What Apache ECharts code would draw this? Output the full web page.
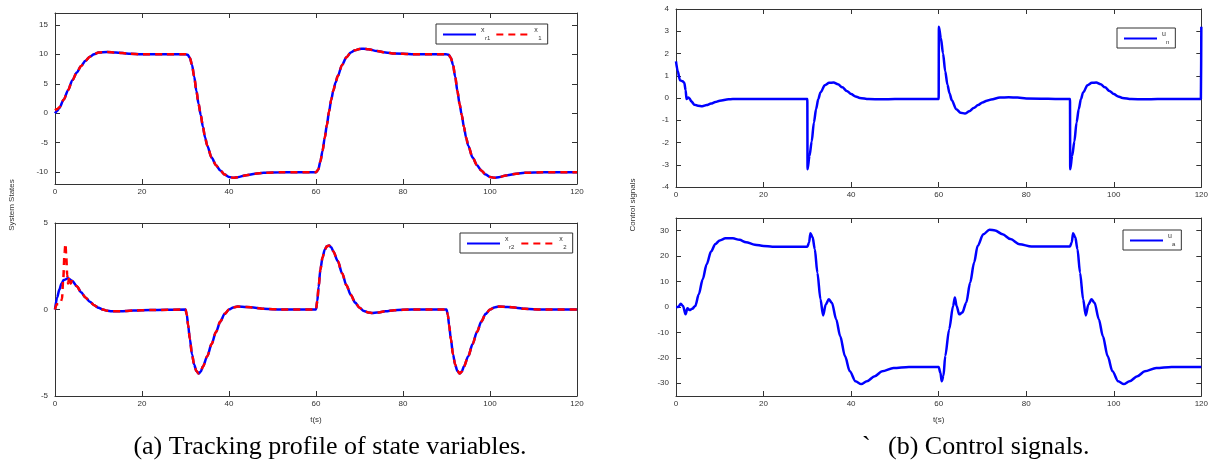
<!DOCTYPE html>
<html>
<head>
<meta charset="utf-8">
<script src="https://cdn.jsdelivr.net/npm/echarts@6/dist/echarts.min.js"></script>
<style>
  html, body { margin: 0; padding: 0; background: #fff; }
  #main { width: 1211px; height: 468px; }
</style>
</head>
<body>
<div id="main"></div>
<script>
// (a) 上图: x_r1 / x1
var tA = [0, 0.5, 1, 2, 3, 4, 5, 6, 7, 8, 9, 10, 12, 14, 17, 20, 25, 30,
  30.5, 31, 31.5, 32, 32.5, 33, 33.5, 34, 34.5, 35, 36, 37, 38, 39, 40, 41, 42, 44, 46, 48, 52, 60,
  60.5, 61, 61.5, 62, 62.5, 63, 63.5, 64, 64.5, 65, 66, 67, 68, 69, 70, 71, 72, 74, 76, 78, 82, 90,
  90.5, 91, 91.5, 92, 92.5, 93, 93.5, 94, 94.5, 95, 96, 97, 98, 99, 100, 101, 102, 104, 106, 108, 112, 120];
var xr1 = [0, 0.4, 0.9, 2.3, 3.9, 5.6, 6.9, 8.0, 8.9, 9.6, 10.0, 10.3, 10.4, 10.3, 10.1, 10.0, 10.0, 10.0,
  9.9, 9.4, 8.2, 6.2, 3.8, 1.6, -0.3, -2.3, -4.1, -5.5, -7.5, -8.8, -9.7, -10.4, -10.8, -10.95, -10.85, -10.5, -10.25, -10.1, -10.02, -10,
  -9.6, -8.2, -6.4, -4.2, -2.0, 0.3, 2.3, 3.9, 5.2, 6.3, 8.2, 9.5, 10.3, 10.7, 10.9, 10.95, 10.85, 10.55, 10.3, 10.12, 10.02, 10,
  9.9, 9.4, 8.2, 6.2, 3.8, 1.6, -0.3, -2.3, -4.1, -5.5, -7.5, -8.8, -9.7, -10.4, -10.8, -10.95, -10.85, -10.5, -10.25, -10.1, -10.02, -10];
var x1 = [0.5, 0.7, 1.0, 2.3, 3.9, 5.6, 6.9, 8.0, 8.9, 9.6, 10.0, 10.3, 10.4, 10.3, 10.1, 10.0, 10.0, 10.0,
  9.9, 9.4, 8.2, 6.2, 3.8, 1.6, -0.3, -2.3, -4.1, -5.5, -7.5, -8.8, -9.7, -10.4, -10.8, -10.95, -10.85, -10.5, -10.25, -10.1, -10.02, -10,
  -9.6, -8.2, -6.4, -4.2, -2.0, 0.3, 2.3, 3.9, 5.2, 6.3, 8.2, 9.5, 10.3, 10.7, 10.9, 10.95, 10.85, 10.55, 10.3, 10.12, 10.02, 10,
  9.9, 9.4, 8.2, 6.2, 3.8, 1.6, -0.3, -2.3, -4.1, -5.5, -7.5, -8.8, -9.7, -10.4, -10.8, -10.95, -10.85, -10.5, -10.25, -10.1, -10.02, -10];

// (a) 下图: x_r2 / x2
var tB = [0, 0.5, 1, 1.5, 2, 3, 4, 5, 6, 7, 8, 9, 10, 11, 12, 13, 15, 18, 22, 30,
  30.3, 30.6, 31, 31.5, 32, 32.5, 33, 33.5, 34, 35, 36, 37, 38, 39, 40, 41, 42, 44, 46, 48, 52, 60,
  60.3, 60.6, 61, 61.5, 62, 62.5, 63, 63.5, 64, 65, 66, 67, 68, 69, 70, 71, 72, 73, 74, 76, 78, 82, 90,
  90.3, 90.6, 91, 91.5, 92, 92.5, 93, 93.5, 94, 95, 96, 97, 98, 99, 100, 101, 102, 104, 106, 108, 112, 120];
var xr2 = [0, 0.7, 1.15, 1.5, 1.7, 1.8, 1.65, 1.35, 1.0, 0.7, 0.45, 0.25, 0.1, 0.0, -0.07, -0.1, -0.1, -0.06, -0.03, 0,
  -0.3, -0.9, -1.7, -2.6, -3.2, -3.55, -3.7, -3.6, -3.3, -2.7, -2.0, -1.3, -0.7, -0.25, 0.0, 0.12, 0.17, 0.15, 0.1, 0.04, 0, 0,
  0.5, 1.3, 2.3, 3.0, 3.45, 3.65, 3.7, 3.6, 3.35, 2.8, 2.1, 1.4, 0.85, 0.4, 0.1, -0.08, -0.17, -0.2, -0.18, -0.1, -0.04, 0, 0,
  -0.3, -0.9, -1.7, -2.6, -3.2, -3.55, -3.7, -3.6, -3.3, -2.7, -2.0, -1.3, -0.7, -0.25, 0.0, 0.12, 0.17, 0.15, 0.1, 0.04, 0, 0];
// x2 起始段振荡
var tB2 = [0, 0.4, 0.8, 1.2, 1.6, 1.9, 2.2, 2.4, 2.6, 2.8, 3.0, 3.3, 3.6, 4];
var x2Start = [0, 0.3, 0.3, 0.35, 0.6, 1.8, 3.3, 3.8, 3.0, 2.0, 1.5, 1.9, 1.5, 1.65];

// (b) 上图: u_n
var tC = [0, 0.4, 0.9, 1.5, 1.9, 2.2, 2.4, 2.8, 3.1, 3.5, 4.2, 5, 6, 7, 8, 9, 10, 12, 14, 17, 20, 30,
  30.05, 30.5, 31, 31.5, 32, 32.5, 33, 34, 35, 36, 37, 38, 39, 40, 41, 42, 44, 47, 50, 60,
  60.05, 60.5, 61, 61.5, 62, 62.5, 63, 64, 65, 66, 67, 68, 69, 70, 71, 72, 74, 76, 78, 80, 90,
  90.05, 90.5, 91, 91.5, 92, 92.5, 93, 94, 95, 96, 97, 98, 99, 100, 101, 102, 104, 107, 110, 119.9, 120];
var un = [1.65, 1.2, 0.8, 0.75, 0.68, 0.35, -0.05, 0.02, -0.02, -0.15, -0.3, -0.35, -0.37, -0.32, -0.25, -0.18, -0.12, -0.06, -0.04, -0.04, -0.05, -0.05,
  -3.2, -2.6, -1.95, -1.1, -0.5, -0.05, 0.25, 0.57, 0.68, 0.7, 0.62, 0.48, 0.32, 0.18, 0.07, 0.0, -0.05, -0.06, -0.05, -0.05,
  3.2, 2.7, 2.0, 1.2, 0.6, 0.2, -0.1, -0.5, -0.66, -0.7, -0.6, -0.45, -0.32, -0.2, -0.12, -0.07, 0.02, 0.03, 0.02, -0.02, -0.05,
  -3.2, -2.6, -1.95, -1.1, -0.5, -0.05, 0.25, 0.57, 0.68, 0.7, 0.62, 0.48, 0.32, 0.18, 0.07, 0.0, -0.05, -0.06, -0.05, -0.05, 3.2];

// (b) 下图: u_a
var tD = [0, 0.5, 1.1, 1.6, 2.2, 2.6, 3.1, 3.7, 4.4, 5.2, 6.1, 7, 8, 9, 10, 11.3, 13, 14.5, 16, 18, 20, 22, 30,
  30.4, 30.7, 31.2, 31.7, 32.3, 33, 33.6, 34.2, 34.9, 35.6, 36.6, 37.5, 38.6, 39.7, 41, 42.3, 43.6, 45.4, 47.1, 49.7, 53.2, 60,
  60.4, 60.7, 61.1, 61.5, 62.4, 63.3, 63.7, 64.1, 64.7, 65.4, 66.3, 67.2, 68.1, 68.9, 70.2, 71.6, 72.9, 74.6, 76.4, 78.5, 81.2, 90,
  90.4, 90.7, 91.2, 91.7, 92.3, 93, 93.6, 94.2, 94.9, 95.6, 96.6, 97.5, 98.6, 99.7, 101, 102.3, 103.6, 105.4, 107.1, 109.7, 113.2, 120];
var ua = [0, 0, 1.3, 0.4, -2.9, -0.5, -1.2, -0.7, 0.4, 5, 10.9, 16.8, 21.8, 24.8, 26.2, 27, 27, 26.4, 25.5, 24.5, 24, 23.7, 23.7,
  25.4, 29, 27.5, 22.8, 13.5, 3, -3.3, 1, 3, 1.7, -4.9, -11.4, -19.3, -25.3, -29.2, -30.3, -29.2, -27.2, -25.3, -24, -23.6, -23.6,
  -25.9, -29.2, -27, -19.3, -8.8, 0.4, 3.7, 0.4, -2.9, -2.2, 1.7, 9.6, 17.5, 24, 28.6, 30.4, 30.1, 28.6, 26.7, 24.7, 23.8, 23.8,
  25.4, 29, 27.5, 22.8, 13.5, 3, -3.3, 1, 3, 1.7, -4.9, -11.4, -19.3, -25.3, -29.2, -30.3, -29.2, -27.2, -25.3, -24, -23.6, -23.6];

var xTicks = [0, 20, 40, 60, 80, 100, 120];
var yTicksA = [-10, -5, 0, 5, 10, 15];
var yTicksD = [-30, -20, -10, 0, 10, 20, 30];

function pairs(t, v) {
    var out = [];
    for (var i = 0; i < t.length; i++) out.push([t[i], v[i]]);
    return out;
}
// x2 = 起始段 + 与 x_r2 相同的后续部分
var x2Data = pairs(tB2, x2Start).concat(pairs(tB, xr2).filter(function (p) { return p[0] > 4; }));

var frame = { show: true, onZero: false, lineStyle: { color: '#333', width: 1 } };
var lab = { fontSize: 8, color: '#333', fontFamily: 'Liberation Sans' };

var grids = [
    { left: 55, right: 634, top: 13, height: 171 },
    { left: 55, right: 634, top: 223, height: 173 },
    { left: 676, right: 7, top: 9, height: 178 },
    { left: 676, right: 7, top: 218, height: 178 }
];
var yRange = [[-12, 17], [-5, 5], [-4, 4], [-35, 35]];
var yVals = [yTicksA, [-5, 0, 5], [-4, -3, -2, -1, 0, 1, 2, 3, 4], yTicksD];

var xAxes = [], yAxes = [];
for (var i = 0; i < 4; i++) {
    var xl = Object.assign({ show: true, margin: 4 }, lab);
    xl.customValues = xTicks;
    xAxes.push({
        type: 'value', gridIndex: i, min: 0, max: 120, position: 'bottom',
        axisLine: frame, axisTick: { inside: true, length: 5, customValues: xTicks, lineStyle: { color: '#333' } },
        axisLabel: xl, splitLine: { show: false },
        name: (i === 1 || i === 3) ? 't(s)' : '', nameLocation: 'middle', nameGap: 20,
        nameTextStyle: lab
    });
    xAxes.push({
        type: 'value', gridIndex: i, min: 0, max: 120, position: 'top',
        axisLine: frame, axisTick: { inside: true, length: 5, customValues: xTicks, lineStyle: { color: '#333' } },
        axisLabel: { show: false }, splitLine: { show: false }
    });
    var yl = Object.assign({ show: true, margin: 7 }, lab);
    yl.customValues = yVals[i];
    yAxes.push({
        type: 'value', gridIndex: i, min: yRange[i][0], max: yRange[i][1], position: 'left',
        axisLine: frame, axisTick: { inside: true, length: 5, customValues: yVals[i], lineStyle: { color: '#333' } },
        axisLabel: yl, splitLine: { show: false }
    });
    yAxes.push({
        type: 'value', gridIndex: i, min: yRange[i][0], max: yRange[i][1], position: 'right',
        axisLine: frame, axisTick: { inside: true, length: 5, customValues: yVals[i], lineStyle: { color: '#333' } },
        axisLabel: { show: false }, splitLine: { show: false }
    });
}

function blue(name, g, data) {
    return {
        name: name, type: 'line', xAxisIndex: 2 * g, yAxisIndex: 2 * g, data: data,
        symbol: 'none', smooth: 0.3, smoothMonotone: 'x',
        lineStyle: { color: '#0000ff', width: 2.5 }, itemStyle: { color: '#0000ff' }
    };
}
function red(name, g, data) {
    return {
        name: name, type: 'line', xAxisIndex: 2 * g, yAxisIndex: 2 * g, data: data,
        symbol: 'none', smooth: 0.3, smoothMonotone: 'x',
        lineStyle: { color: '#ff0000', width: 2.5, type: [7, 5] }, itemStyle: { color: '#ff0000' }
    };
}

var legendText = {
    xr1: '{s|x}\n{b|r1}', x1: '{s|x}\n{b|1}',
    xr2: '{s|x}\n{b|r2}', x2: '{s|x}\n{b|2}',
    un: '{s|u}\n{b|n}', ua: '{s|u}\n{b|a}'
};
function legend(names, left, top, gap) {
    return {
        data: names, left: left, top: top, orient: 'horizontal',
        padding: [3, 6, 3, 6], itemGap: gap, itemWidth: 33, itemHeight: 10,
        borderColor: '#333', borderWidth: 1, backgroundColor: '#fff',
        selectedMode: false,
        itemStyle: { opacity: 0 },
        formatter: function (n) { return legendText[n]; },
        textStyle: {
            color: '#333', fontFamily: 'Liberation Sans',
            rich: {
                s: { fontSize: 7, lineHeight: 7, color: '#333' },
                b: { fontSize: 6, lineHeight: 8, color: '#333', padding: [0, 0, 0, 4] }
            }
        }
    };
}

var myChart = echarts.init(document.getElementById('main'));
var option = {
    animation: false,
    backgroundColor: '#fff',
    grid: grids,
    xAxis: xAxes,
    yAxis: yAxes,
    legend: [
        legend(['xr1', 'x1'], 436, 24, 5),
        legend(['xr2', 'x2'], 460, 233, 6),
        legend(['un'], 1117, 28, 5),
        legend(['ua'], 1123, 230, 5)
    ],
    series: [
        blue('xr1', 0, pairs(tA, xr1)),
        red('x1', 0, pairs(tA, x1)),
        blue('xr2', 1, pairs(tB, xr2)),
        red('x2', 1, x2Data),
        blue('un', 2, pairs(tC, un)),
        blue('ua', 3, pairs(tD, ua))
    ],
    graphic: [
        { type: 'text', x: 12, y: 205, rotation: Math.PI / 2,
          style: { text: 'System States', fontSize: 8, fill: '#333', fontFamily: 'Liberation Sans', align: 'center', verticalAlign: 'middle' } },
        { type: 'text', x: 633, y: 205, rotation: Math.PI / 2,
          style: { text: 'Control signals', fontSize: 8, fill: '#333', fontFamily: 'Liberation Sans', align: 'center', verticalAlign: 'middle' } },
        { type: 'text', x: 330, y: 447,
          style: { text: '(a) Tracking profile of state variables.', fontSize: 26, fill: '#000', fontFamily: 'Liberation Serif', align: 'center', verticalAlign: 'middle' } },
        { type: 'text', x: 862, y: 447,
          style: { text: '`', fontSize: 26, fill: '#000', fontFamily: 'Liberation Serif', align: 'left', verticalAlign: 'middle' } },
        { type: 'text', x: 888, y: 447,
          style: { text: '(b) Control signals.', fontSize: 26, fill: '#000', fontFamily: 'Liberation Serif', align: 'left', verticalAlign: 'middle' } }
    ]
};
myChart.setOption(option);
</script>
</body>
</html>
